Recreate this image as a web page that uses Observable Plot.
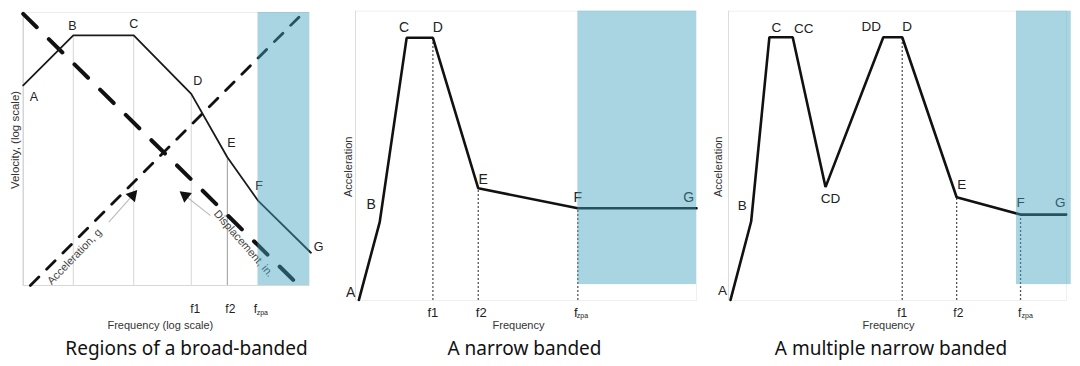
<!DOCTYPE html>
<html><head><meta charset="utf-8">
<script src="https://cdn.jsdelivr.net/npm/d3@7"></script>
<script src="https://cdn.jsdelivr.net/npm/@observablehq/plot@0.6"></script>
<style>
body{margin:0;background:#fff;}
#wrap{position:relative;width:1080px;height:366px;overflow:hidden;}
.panel{position:absolute;top:0;}
.cap{position:absolute;top:335px;height:26px;line-height:26px;font-family:"Noto Sans",sans-serif;font-size:19px;color:#111;white-space:nowrap;transform:translateX(-50%);}
</style></head><body><div id="wrap"></div>
<script>
// ---------- Panel 1: broad-banded (velocity, log-log schematic) ----------
const p1Points = ["A", "B", "C", "D", "E", "F", "G"];
const p1Freq   = [0, 17.5, 38.6, 58.7, 71.3, 82.0, 100.5];
const p1Vel    = [73.3, 91.6, 91.6, 70.2, 47.0, 31.1, 12.0];
const p1GuidePoints = ["B", "C", "D", "E"];
const p1DispFreq  = [0, 95.7];
const p1DispLevel = [99.5, 0.6];
const p1AccFreq   = [2.5, 96.3];
const p1AccLevel  = [0, 98.3];
const p1ArrowNames = ["Acceleration, g", "Displacement, in."];
const p1ArrowFrom  = [[29.9, 23.2], [65.4, 25.6]];
const p1ArrowTo    = [[38.2, 33.0], [56.6, 32.9]];
const p1ArrowTextAt = [[17.9, 10.6], [77.0, 15.4]];
const p1TickNames = ["f1", "f2", "f"];
const p1TickPoints = ["D", "E", "F"];
const p1Band = [82.0, 100];
const p1BandLevel = [0, 100];

// ---------- Panel 2: narrow banded ----------
const p2Points = ["A", "B", "C", "D", "E", "F", "G"];
const p2Freq   = [1.0, 7.1, 15.0, 22.7, 36.0, 65.2, 100];
const p2Acc    = [0.2, 27.1, 90.8, 90.8, 38.8, 31.9, 31.9];
const p2TickNames = ["f1", "f2", "f"];
const p2TickPoints = ["D", "E", "F"];
const p2Band = [65.2, 100];
const p2BandLevel = [5.5, 100];

// ---------- Panel 3: multiple narrow banded ----------
const p3Points = ["A", "B", "C", "CC", "CD", "DD", "D", "E", "F", "G"];
const p3Freq   = [0.6, 6.7, 12.1, 19.0, 28.7, 45.8, 51.4, 67.5, 86.4, 99.9];
const p3Acc    = [0.2, 27.3, 91.0, 91.0, 39.2, 91.0, 91.0, 35.7, 29.7, 29.7];
const p3TickNames = ["f1", "f2", "f"];
const p3TickPoints = ["D", "E", "F"];
const p3Band = [85.2, 101.4];
const p3BandLevel = [5.5, 100];

const captions = ["Regions of a broad-banded", "A narrow banded", "A multiple narrow banded"];
const yTitles = ["Velocity, (log scale)", "Acceleration", "Acceleration"];
const xTitles = ["Frequency (log scale)", "Frequency", "Frequency"];

// ---------- helpers ----------
const FONT = "'Liberation Sans', Arial, sans-serif";
const BAND_FILL = "rgb(62,162,189)";
const rows = (names, xs, ys) => names.map((n, i) => ({name: n, x: xs[i], y: ys[i]}));
const find = (rowsArr, n) => rowsArr.find(r => r.name === n);

function pointLabels(data, offsets, fontSize) {
  return data.map(d => {
    const [dx, dy] = offsets[d.name];
    return Plot.text([d], {x: "x", y: "y", text: "name", dx, dy, fontSize, fill: "#222", textAnchor: "middle", lineAnchor: "middle"});
  });
}
function tickLabels(data, tickNames, tickPoints, opts) {
  const marks = [];
  tickNames.forEach((t, i) => {
    const p = find(data, tickPoints[i]);
    if (t === "f") {
      marks.push(Plot.text([p], {x: "x", text: () => t, frameAnchor: "bottom", textAnchor: "end", lineAnchor: "middle", dx: opts.dx[i], dy: opts.dy, fontSize: opts.fontSize, fill: "#222"}));
      marks.push(Plot.text([p], {x: "x", text: () => "zpa", frameAnchor: "bottom", textAnchor: "start", lineAnchor: "middle", dx: opts.subDx, dy: opts.dy + 3, fontSize: 7, fill: "#222"}));
    } else {
      marks.push(Plot.text([p], {x: "x", text: () => t, frameAnchor: "bottom", textAnchor: "middle", lineAnchor: "middle", dx: opts.dx[i], dy: opts.dy, fontSize: opts.fontSize, fill: "#222"}));
    }
  });
  return marks;
}
const xTitle = (t, dx, dy, fs) => Plot.text([t], {frameAnchor: "bottom", textAnchor: "middle", lineAnchor: "middle", dx, dy, fontSize: fs, fill: "#333"});
const yTitle = (t, dx, dy, fs) => Plot.text([t], {frameAnchor: "left", textAnchor: "middle", lineAnchor: "middle", rotate: -90, dx, dy, fontSize: fs, fill: "#333"});

function mount(svg, left) {
  const d = document.createElement("div");
  d.className = "panel"; d.style.left = left + "px";
  d.appendChild(svg);
  document.getElementById("wrap").appendChild(d);
}
function caption(text, cx) {
  const c = document.createElement("div");
  c.className = "cap"; c.style.left = cx + "px"; c.textContent = text;
  document.getElementById("wrap").appendChild(c);
}

// ---------- Panel 1 ----------
{
  const data = rows(p1Points, p1Freq, p1Vel);
  const guides = p1GuidePoints.map(n => find(data, n));
  const offsets = {A: [10.6, 11.7], B: [-1, -9], C: [0, -11], D: [6.6, -13], E: [4, -14], F: [1, -15], G: [7.6, -6]};
  const disp = p1DispFreq.map((x, i) => ({x, y: p1DispLevel[i]}));
  const acc = p1AccFreq.map((x, i) => ({x, y: p1AccLevel[i]}));
  const arrows = p1ArrowNames.map((n, i) => ({name: n, x1: p1ArrowFrom[i][0], y1: p1ArrowFrom[i][1], x2: p1ArrowTo[i][0], y2: p1ArrowTo[i][1], tx: p1ArrowTextAt[i][0], ty: p1ArrowTextAt[i][1]}));
  const svg = Plot.plot({
    width: 340, height: 332,
    marginLeft: 22.7, marginRight: 31, marginTop: 12, marginBottom: 47,
    x: {domain: [0, 100], axis: null},
    y: {domain: [0, 100], axis: null},
    style: {fontFamily: FONT, background: "transparent", overflow: "visible"},
    marks: [
      Plot.frame({stroke: "#ececec"}),
      Plot.ruleX([0], {stroke: "#c8c8c8"}),
      Plot.ruleY([0], {stroke: "#d8d8d8"}),
      Plot.ruleX(guides, {x: "x", y1: 0, y2: "y", stroke: d => d.name === "E" ? "#9a9a9a" : "#d6d6d6", strokeWidth: 1}),
      Plot.line(disp, {x: "x", y: "y", stroke: "#111", strokeWidth: 4, strokeDasharray: "19,17"}),
      Plot.line(acc, {x: "x", y: "y", stroke: "#111", strokeWidth: 2.8, strokeDasharray: "12,11"}),
      Plot.link(arrows, {x1: "x1", y1: "y1", x2: "x2", y2: "y2", stroke: "#bdbdbd", strokeWidth: 1.2}),
      Plot.dot(arrows, {x: "x2", y: "y2", symbol: "triangle", r: 4.6, fill: "#111", stroke: null, rotate: d => d.name.startsWith("Acc") ? 41 : -52}),
      Plot.text([arrows[0]], {x: "tx", y: "ty", text: "name", rotate: -46, fontSize: 11, fill: "#444"}),
      Plot.text([arrows[1]], {x: "tx", y: "ty", text: "name", rotate: 49, fontSize: 11, fill: "#444"}),
      Plot.line(data, {x: "x", y: "y", stroke: "#1a1a1a", strokeWidth: 1.8, strokeLinejoin: "miter"}),
      ...pointLabels(data, offsets, 12.5),
      ...tickLabels(data, p1TickNames, p1TickPoints, {dx: [4, 3, -0.8], dy: 24, fontSize: 12, subDx: -1.3}),
      xTitle(xTitles[0], -6, 40, 11),
      yTitle(yTitles[0], -8, -9, 11.5),
      Plot.rect([0], {x1: () => p1Band[0], x2: () => p1Band[1], y1: () => p1BandLevel[0], y2: () => p1BandLevel[1], fill: BAND_FILL, fillOpacity: 0.45})
    ]
  });
  mount(svg, 0);
  caption(captions[0], 186.5);
}

// ---------- Panel 2 ----------
{
  const data = rows(p2Points, p2Freq, p2Acc);
  const guides = p2TickPoints.map(n => find(data, n));
  const offsets = {A: [-8.3, -7.6], B: [-8.6, -17.7], C: [-2.7, -10.6], D: [5, -10.6], E: [5, -8.7], F: [0, -11], G: [-7.7, -11]};
  const svg = Plot.plot({
    width: 370, height: 332,
    marginLeft: 15, marginRight: 14, marginTop: 10.7, marginBottom: 32,
    x: {domain: [0, 100], axis: null},
    y: {domain: [0, 100], axis: null},
    style: {fontFamily: FONT, background: "transparent", overflow: "visible"},
    marks: [
      Plot.frame({stroke: "#efefef"}),
      Plot.ruleX([0], {stroke: "#dcdcdc"}),
      Plot.ruleX(guides, {x: "x", y1: 0, y2: "y", stroke: "#555", strokeWidth: 1.3, strokeDasharray: "2,2"}),
      Plot.line(data, {x: "x", y: "y", stroke: "#111", strokeWidth: 2.6, strokeLinejoin: "miter"}),
      ...pointLabels(data, offsets, 14),
      ...tickLabels(data, p2TickNames, p2TickPoints, {dx: [0, 3, -0.3], dy: 12, fontSize: 13, subDx: -1}),
      xTitle(xTitles[1], -7.5, 25, 11),
      yTitle(yTitles[1], -7, 11, 11),
      Plot.rect([0], {x1: () => p2Band[0], x2: () => p2Band[1], y1: () => p2BandLevel[0], y2: () => p2BandLevel[1], fill: BAND_FILL, fillOpacity: 0.45})
    ]
  });
  mount(svg, 340);
  caption(captions[1], 524.5);
}

// ---------- Panel 3 ----------
{
  const data = rows(p3Points, p3Freq, p3Acc);
  const guides = p3TickPoints.map(n => find(data, n));
  const offsets = {A: [-8, -9], B: [-9, -16], C: [7, -10], CC: [11, -8.4], CD: [5, 12], DD: [-12, -10.7], D: [5, -10.7], E: [5, -13], F: [0, -12], G: [-6, -12]};
  const svg = Plot.plot({
    width: 380, height: 332,
    marginLeft: 28, marginRight: 14, marginTop: 10.7, marginBottom: 32,
    x: {domain: [0, 100], axis: null},
    y: {domain: [0, 100], axis: null},
    style: {fontFamily: FONT, background: "transparent", overflow: "visible"},
    marks: [
      Plot.frame({stroke: "#efefef"}),
      Plot.ruleX([0], {stroke: "#dcdcdc"}),
      Plot.ruleX(guides, {x: "x", y1: 0, y2: "y", stroke: "#555", strokeWidth: 1.3, strokeDasharray: "2,2"}),
      Plot.line(data, {x: "x", y: "y", stroke: "#111", strokeWidth: 2.6, strokeLinejoin: "miter"}),
      ...pointLabels(data, offsets, 13.5),
      ...tickLabels(data, p3TickNames, p3TickPoints, {dx: [0, 1.7, 0.7], dy: 12.5, fontSize: 12, subDx: 1}),
      xTitle(xTitles[2], -9, 25, 11),
      yTitle(yTitles[2], -10, 11, 11),
      Plot.rect([0], {x1: () => p3Band[0], x2: () => p3Band[1], y1: () => p3BandLevel[0], y2: () => p3BandLevel[1], fill: BAND_FILL, fillOpacity: 0.45})
    ]
  });
  mount(svg, 700);
  caption(captions[2], 891);
}
</script>
</body></html>
